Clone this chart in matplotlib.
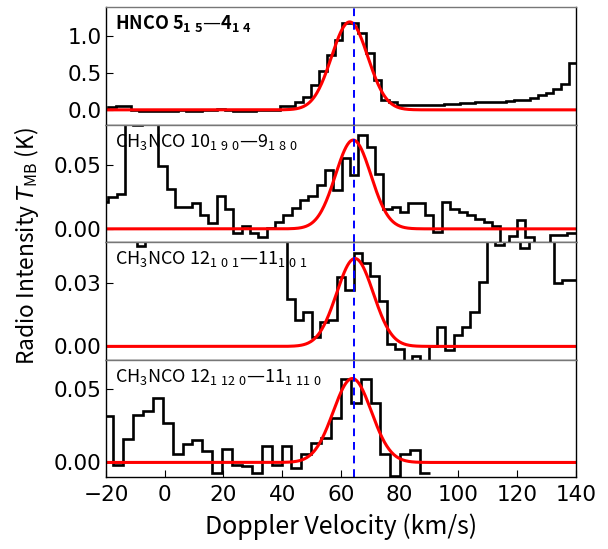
import numpy as np
import matplotlib
matplotlib.use("Agg")
import matplotlib.pyplot as plt

plt.rcParams['font.family'] = ['Noto Sans CJK JP', 'DejaVu Sans']
plt.rcParams['mathtext.fontset'] = 'dejavusans'

V_SYS = 64.4

# HNCO 5(1,5)-4(1,4)
hnco_v0, hnco_dv = -22.02, 2.662
hnco_T = [0.01, 0.035, 0.05, 0.05, 0.0, -0.02, -0.02, -0.02, -0.02, -0.01,
          0.0, -0.01, -0.01, 0.0, 0.0, 0.01, 0.0, -0.02, -0.02, -0.01,
          0.0, 0.0, 0.0, 0.05, 0.05, 0.10, 0.17, 0.34, 0.53, 0.74,
          0.95, 1.18, 1.18, 1.04, 0.77, 0.41, 0.14, 0.11, 0.07, 0.06,
          0.07, 0.06, 0.07, 0.07, 0.08, 0.08, 0.09, 0.09, 0.10, 0.10,
          0.11, 0.11, 0.12, 0.13, 0.14, 0.16, 0.20, 0.23, 0.28, 0.35,
          0.63]

# CH3NCO 10(1,9,0)-9(1,8,0)
c10_v0, c10_dv = -22.06, 2.84
c10_T = [0.021, 0.025, 0.027, 0.10, 0.0805, 0.10, 0.09, 0.049, 0.0313, 0.0167,
         0.0167, 0.0198, 0.0108, 0.0044, 0.0254, 0.0151, -0.0033, 0.0023, -0.0033, -0.0064,
         0.0005, 0.0056, 0.0108, 0.0159, 0.0228, 0.0254, 0.0338, 0.0454, 0.030, 0.0548,
         0.0415, 0.073, 0.0638, 0.0428, 0.0151, 0.0167, 0.0133, 0.0198, 0.0198, 0.0108,
         -0.0028, 0.021, 0.0151, 0.0133, 0.0108, 0.0074, 0.0056, 0.0023, -0.012, -0.0059,
         0.0069, -0.0064, -0.012, -0.012, -0.0046, -0.0046, -0.0033, -0.0033]

# CH3NCO 12(1,0,1)-11(1,0,1)
c12a_v0, c12a_dv = -20.9, 2.84
c12a_T = [0.06, 0.06, 0.06, 0.06, 0.047, 0.06, 0.06, 0.06, 0.06, 0.06,
          0.06, 0.06, 0.06, 0.06, 0.06, 0.06, 0.06, 0.06, 0.06, 0.06,
          0.06, 0.06, 0.0222, 0.0124, 0.0163, 0.0044, 0.0116, 0.0124, 0.0327, 0.0263,
          0.0438, 0.039, 0.033, 0.0211, 0.001, -0.0011, -0.008, -0.0043, -0.008, 0.0,
          0.0089, -0.0019, 0.0052, 0.0092, 0.0163, 0.0301, 0.06, 0.0476, 0.06, 0.06,
          0.046, 0.06, 0.06, 0.06, 0.030, 0.0314, 0.0314]

# CH3NCO 12(1,12,0)-11(1,11,0)
c12b_v0, c12b_dv = -20.87, 3.37
c12b_T = [0.0313, -0.0014, 0.0156, 0.0324, 0.0347, 0.0437, 0.0268, 0.0054, 0.0122, 0.0149,
          0.0077, -0.007, 0.0088, -0.0014, -0.0025, -0.007, 0.011, -0.0014, 0.011, -0.0036,
          0.0054, 0.0133, 0.0167, 0.0302, 0.0568, 0.0404, 0.0568, 0.0404, 0.0059, -0.009,
          0.0054, 0.0081, -0.007]

# gaussian fits: amplitude, centre, fwhm
fits = [(1.19, 63.0, 14.5), (0.069, 64.2, 14.2), (0.0413, 64.8, 14.7), (0.0568, 63.9, 15.3)]

labels = [r'HNCO $\mathregular{5_{1\ 5}}$—$\mathregular{4_{1\ 4}}$',
          r'$\mathregular{CH_3}$NCO $\mathregular{10_{1\ 9\ 0}}$—$\mathregular{9_{1\ 8\ 0}}$',
          r'$\mathregular{CH_3}$NCO $\mathregular{12_{1\ 0\ 1}}$—$\mathregular{11_{1\ 0\ 1}}$',
          r'$\mathregular{CH_3}$NCO $\mathregular{12_{1\ 12\ 0}}$—$\mathregular{11_{1\ 11\ 0}}$']
ylims = [(-0.2, 1.39), (-0.0103, 0.081), (-0.0062, 0.049), (-0.0099, 0.0696)]
yticks = [[0.0, 0.5, 1.0], [0.0, 0.05], [0.0, 0.03], [0.0, 0.05]]
yfmt = ['%.1f', '%.2f', '%.2f', '%.2f']
spectra = [(hnco_v0, hnco_dv, hnco_T), (c10_v0, c10_dv, c10_T),
           (c12a_v0, c12a_dv, c12a_T), (c12b_v0, c12b_dv, c12b_T)]
xticks = [-20, 0, 20, 40, 60, 80, 100, 120, 140]

fig, axes = plt.subplots(4, 1, figsize=(6.08, 5.49), dpi=100, sharex=True)
fig.subplots_adjust(left=0.1743, right=0.947, top=0.987, bottom=0.131, hspace=0)

vgrid = np.linspace(-20, 140, 600)
for i, ax in enumerate(axes):
    v0, dv, T = spectra[i]
    edges = v0 + dv * np.arange(len(T) + 1)
    ax.stairs(T, edges, color='black', lw=1.9, baseline=None)
    amp, cen, fwhm = fits[i]
    sig = fwhm / 2.3548
    ax.plot(vgrid, amp * np.exp(-0.5 * ((vgrid - cen) / sig) ** 2), color='red', lw=2.2)
    ax.axvline(V_SYS, color='blue', lw=1.4, ls=(0, (4, 3)))
    ax.set_xlim(-20, 140)
    ax.set_ylim(*ylims[i])
    ax.set_yticks(yticks[i])
    ax.set_yticklabels([yfmt[i] % t for t in yticks[i]], fontfamily='DejaVu Sans', fontsize=15.5)
    ax.tick_params(axis='y', direction='in', length=5, pad=3)
    ax.tick_params(axis='x', direction='in', length=5, pad=6, bottom=(i == 3))
    for s in ax.spines.values():
        s.set_linewidth(1.0)
    ax.spines['top'].set_color('#777777')
    ax.text(0.02, 0.94, labels[i], transform=ax.transAxes, ha='left', va='top',
            fontsize=13, fontweight='bold' if i == 0 else 'normal')

axes[3].set_xticks(xticks)
axes[3].set_xticklabels([str(t).replace('-', '\u2212') for t in xticks],
                        fontfamily='DejaVu Sans', fontsize=15.5)
axes[3].set_xlabel('Doppler Velocity (km/s)', fontsize=18, labelpad=6)
fig.text(0.043, 0.552, r'Radio Intensity $T_{\mathregular{MB}}$ (K)', rotation=90,
         ha='center', va='center', fontsize=16.4)

fig.savefig('out.png', dpi=100)
